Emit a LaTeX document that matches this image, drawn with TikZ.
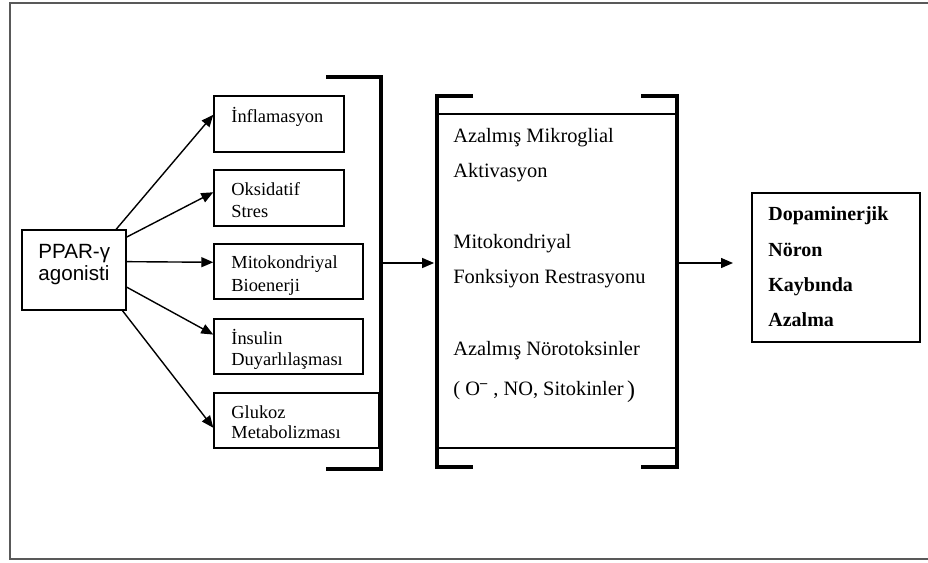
\documentclass[tikz,border=0pt]{standalone}
\usepackage{fontspec}
\setmainfont{Liberation Serif}
\newfontfamily\arialfont{Liberation Sans}
\usetikzlibrary{arrows.meta}
\tikzset{every picture/.style={x=0.5pt,y=-0.5pt}}
\tikzset{box/.style={draw,line width=0.7pt,inner sep=0pt}}
\tikzset{arr/.style={line width=0.7pt,-{Triangle[length=6pt,width=5pt]}}}
\tikzset{brk/.style={line width=2.3pt}}
\tikzset{lbl/.style={inner sep=0pt,anchor=base west,font=\fontsize{9.2}{11}\selectfont}}
\tikzset{mtxt/.style={inner sep=0pt,anchor=base west,font=\fontsize{10.2}{12}\selectfont}}
\tikzset{rtxt/.style={inner sep=0pt,anchor=base west,font=\fontsize{10}{12}\selectfont\bfseries}}

\begin{document}
\begin{tikzpicture}
\useasboundingbox (0,0) rectangle (928,563);
\draw [gray!70!black,line width=1pt] (930,3) -- (10,3) -- (10,559) -- (930,559);

\node [box,minimum width=52pt,minimum height=40pt] (ppar) at (74,270) {};
\node [inner sep=0pt,anchor=base west,font=\arialfont\fontsize{10.3}{12}\selectfont] (ppar1) at (38,258) {PPAR-γ};
\node [inner sep=0pt,anchor=base west,font=\arialfont\fontsize{10.3}{12}\selectfont] (ppar2) at (38,280) {agonisti};

\node [box,minimum width=65pt,minimum height=28pt] (inf) at (279,124) {};
\node [box,minimum width=65pt,minimum height=28pt] (oks) at (279,198) {};
\node [box,minimum width=74.5pt,minimum height=27.5pt] (mit) at (288.5,271.5) {};
\node [box,minimum width=74.5pt,minimum height=27.5pt] (ins) at (288.5,346.5) {};
\node [box,minimum width=82.5pt,minimum height=27.5pt] (glu) at (296.5,420.5) {};

\node [lbl] (inf1) at (231,122) {İnflamasyon};
\node [lbl] (oks1) at (231,195) {Oksidatif};
\node [lbl] (oks2) at (231,217) {Stres};
\node [lbl] (mit1) at (231,268) {Mitokondriyal};
\node [lbl] (mit2) at (231,291) {Bioenerji};
\node [lbl] (ins1) at (231,344) {İnsulin};
\node [lbl] (ins2) at (231,365) {Duyarlılaşması};
\node [lbl] (glu1) at (231,418) {Glukoz};
\node [lbl] (glu2) at (231,438) {Metabolizması};

\draw [arr] (ppar.44) -- (inf.172);
\draw [arr] (ppar.32) -- (oks.175);
\draw [arr] (ppar.9) -- (mit.173);
\draw [arr] (ppar.-18) -- (ins.171);
\draw [arr] (ppar.-40) -- (glu.185);

% brackets
\draw [brk] (326,77) -- (381,77) -- (381,469) -- (326,469);

\node [box,minimum width=120pt,minimum height=167pt] (mid) at (557,281) {};
\draw [brk] (473,96) -- (437,96) -- (437,467) -- (473,467);
\draw [brk] (641,96) -- (677,96) -- (677,467) -- (641,467);

\node [mtxt] (m1) at (453,142) {Azalmış Mikroglial};
\node [mtxt] (m2) at (453,177) {Aktivasyon};
\node [mtxt] (m3) at (453,248) {Mitokondriyal};
\node [mtxt] (m4) at (453,283) {Fonksiyon Restrasyonu};
\node [mtxt] (m5) at (453,355) {Azalmış Nörotoksinler};
\node [mtxt] (m6) at (453,395) {( O\textsuperscript{\textbf{–}} , NO, Sitokinler\,\raisebox{-1pt}{\large)}};

\node [box,minimum width=84pt,minimum height=74.5pt] (res) at (836,267.5) {};
\node [rtxt] (r1) at (768,220) {Dopaminerjik};
\node [rtxt] (r2) at (768,256) {Nöron};
\node [rtxt] (r3) at (768,291) {Kaybında};
\node [rtxt] (r4) at (768,326) {Azalma};

\coordinate (b1) at (381,263);
\coordinate (b2) at (733,263);
\draw [arr,shorten >=1.1pt] (b1) -- (mid.west |- b1);
\draw [arr] (mid.east |- b1) -- (b2);
\end{tikzpicture}
\end{document}
